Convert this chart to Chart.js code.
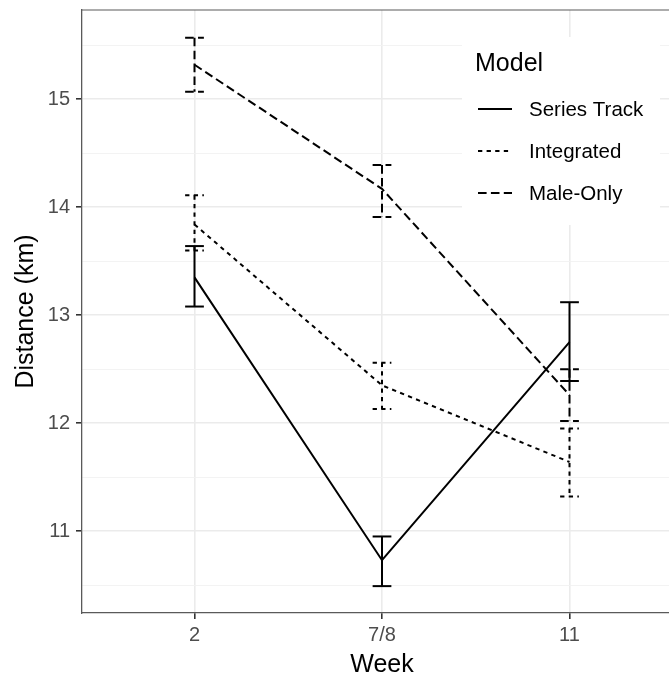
<!DOCTYPE html>
<html>
<head>
<meta charset="utf-8">
<script src="https://cdn.jsdelivr.net/npm/chart.js@4.4.1/dist/chart.umd.min.js"></script>
<style>
html,body{margin:0;padding:0;overflow:hidden;background:#fff;}
canvas{display:block;}
</style>
</head>
<body>
<canvas id="c" width="684" height="675"></canvas>
<script>
// ---- data ----
const weeks = ['2', '7/8', '11'];
const weekPos = [1, 2, 3];
const seriesNames = ['Series Track', 'Integrated', 'Male-Only'];

const seriesTrack     = [13.35, 10.73, 12.75];
const seriesTrackLow  = [13.08, 10.49, 12.39];
const seriesTrackHigh = [13.64, 10.95, 13.12];

const integrated      = [13.84, 12.35, 11.64];
const integratedLow   = [13.60, 12.13, 11.32];
const integratedHigh  = [14.11, 12.56, 11.95];

const maleOnly        = [15.32, 14.17, 12.26];
const maleOnlyLow     = [15.07, 13.91, 12.02];
const maleOnlyHigh    = [15.57, 14.39, 12.50];

const yMajorTicks = [11, 12, 13, 14, 15];
const yMinorTicks = [10.5, 11.5, 12.5, 13.5, 14.5, 15.5];

// ---- styles ----
const FONT = "'Liberation Sans', Arial, Helvetica, sans-serif";
const dashes = [[], [4.3, 4.3], [8.6, 4.3]];
const LW = 2;

const means = [seriesTrack, integrated, maleOnly];
const lows = [seriesTrackLow, integratedLow, maleOnlyLow];
const highs = [seriesTrackHigh, integratedHigh, maleOnlyHigh];

const datasets = seriesNames.map((name, i) => ({
  label: name,
  data: weekPos.map((x, j) => ({x: x, y: means[i][j]})),
  borderColor: '#000',
  borderWidth: LW,
  borderDash: dashes[i],
  pointRadius: 0,
  pointHoverRadius: 0,
  fill: false,
  tension: 0
}));

const errorBarPlugin = {
  id: 'errorBars',
  afterDatasetsDraw(chart) {
    const ctx = chart.ctx, xs = chart.scales.x, ys = chart.scales.y;
    const capHalf = 0.05;
    ctx.save();
    ctx.strokeStyle = '#000';
    ctx.lineWidth = LW;
    ctx.lineCap = 'butt';
    for (let i = 0; i < seriesNames.length; i++) {
      ctx.setLineDash(dashes[i]);
      for (let j = 0; j < weekPos.length; j++) {
        const x0 = xs.getPixelForValue(weekPos[j] - capHalf);
        const x1 = xs.getPixelForValue(weekPos[j] + capHalf);
        const xc = xs.getPixelForValue(weekPos[j]);
        const yh = ys.getPixelForValue(highs[i][j]);
        const yl = ys.getPixelForValue(lows[i][j]);
        ctx.beginPath(); ctx.moveTo(x0, yh); ctx.lineTo(x1, yh); ctx.stroke();
        ctx.beginPath(); ctx.moveTo(xc, yh); ctx.lineTo(xc, yl); ctx.stroke();
        ctx.beginPath(); ctx.moveTo(x0, yl); ctx.lineTo(x1, yl); ctx.stroke();
      }
    }
    ctx.restore();
  }
};

const legendPlugin = {
  id: 'insideLegend',
  beforeDatasetsDraw(chart) {
    const ctx = chart.ctx;
    ctx.save();
    ctx.fillStyle = '#fff';
    ctx.fillRect(462, 37, 198, 188);
    ctx.fillStyle = '#000';
    ctx.textBaseline = 'middle';
    ctx.textAlign = 'left';
    ctx.font = '25px ' + FONT;
    ctx.fillText('Model', 475, 64);
    const ys = [109, 151, 193];
    ctx.font = '20.5px ' + FONT;
    for (let i = 0; i < seriesNames.length; i++) {
      ctx.strokeStyle = '#000';
      ctx.lineWidth = LW;
      ctx.setLineDash(dashes[i]);
      ctx.beginPath();
      ctx.moveTo(478, ys[i]);
      ctx.lineTo(512, ys[i]);
      ctx.stroke();
      ctx.fillText(seriesNames[i], 529, ys[i] + 1);
    }
    ctx.restore();
  },
  afterDraw(chart) {
    const ctx = chart.ctx, a = chart.chartArea;
    ctx.save();
    ctx.strokeStyle = '#5a5a5a';
    ctx.lineWidth = 1.2;
    ctx.beginPath();
    ctx.moveTo(a.left, a.top);
    ctx.lineTo(a.right, a.top);
    ctx.stroke();
    ctx.restore();
  }
};

const isMajor = v => Math.abs(v - Math.round(v)) < 1e-9;

new Chart(document.getElementById('c'), {
  type: 'line',
  data: { datasets: datasets },
  options: {
    responsive: false,
    animation: false,
    devicePixelRatio: 1,
    layout: { padding: { left: 0, top: 10, right: 2, bottom: 0 } },
    plugins: { legend: { display: false }, tooltip: { enabled: false } },
    scales: {
      x: {
        type: 'linear',
        min: 0.4,
        max: 3.6,
        afterBuildTicks: s => { s.ticks = weekPos.map(v => ({ value: v })); },
        afterFit: s => { s.height = 62; s.paddingLeft = 0; s.paddingRight = 0; },
        ticks: {
          callback: v => weeks[weekPos.indexOf(v)],
          color: '#4d4d4d',
          font: { family: FONT, size: 20 },
          padding: 4,
          maxRotation: 0,
          autoSkip: false
        },
        grid: {
          color: '#ebebeb',
          lineWidth: 1.6,
          tickLength: 6,
          tickColor: '#333',
          tickWidth: 1.6
        },
        border: { display: true, color: '#5a5a5a', width: 1.3 },
        title: {
          display: true,
          text: 'Week',
          color: '#000',
          font: { family: FONT, size: 25, lineHeight: 0.8 },
          padding: { top: 0, bottom: 0 }
        }
      },
      y: {
        type: 'linear',
        min: 10.241,
        max: 15.827,
        afterBuildTicks: s => {
          s.ticks = yMajorTicks.concat(yMinorTicks).sort((a, b) => a - b).map(v => ({ value: v }));
        },
        afterFit: s => { s.width = 82; s.paddingTop = 0; s.paddingBottom = 0; },
        ticks: {
          callback: v => isMajor(v) ? String(v) : '',
          color: '#4d4d4d',
          font: { family: FONT, size: 20 },
          padding: 6,
          autoSkip: false
        },
        grid: {
          color: c => isMajor(c.tick.value) ? '#ebebeb' : '#f2f2f2',
          lineWidth: c => isMajor(c.tick.value) ? 1.6 : 0.9,
          tickLength: 6,
          tickColor: c => isMajor(c.tick.value) ? '#333' : 'rgba(0,0,0,0)',
          tickWidth: 1.6
        },
        border: { display: true, color: '#5a5a5a', width: 1.3 },
        title: {
          display: true,
          text: 'Distance (km)',
          color: '#000',
          font: { family: FONT, size: 25 },
          padding: { top: 11, bottom: 0 }
        }
      }
    }
  },
  plugins: [legendPlugin, errorBarPlugin]
});
</script>
</body>
</html>
